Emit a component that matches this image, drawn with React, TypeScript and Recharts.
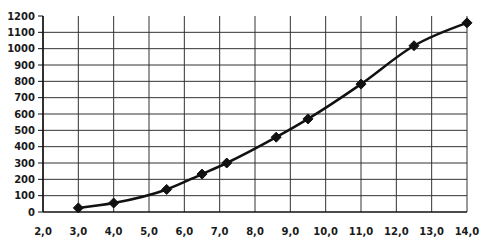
import React from 'react';
import { LineChart, Line, XAxis, YAxis, CartesianGrid, ReferenceLine } from 'recharts';

const xValues = [3.0, 4.0, 5.5, 6.5, 7.2, 8.6, 9.5, 11.0, 12.5, 14.0];
const yValues = [25, 55, 138, 232, 300, 458, 570, 783, 1018, 1158];
const xTicks = [2, 3, 4, 5, 6, 7, 8, 9, 10, 11, 12, 13, 14];
const yTicks = [0, 100, 200, 300, 400, 500, 600, 700, 800, 900, 1000, 1100, 1200];
// horizontal rules stop below the top tick
const gridRows = [100, 200, 300, 400, 500, 600, 700, 800, 900, 1000, 1100];

const data = xValues.map((x, i) => ({ x, y: yValues[i] }));

const Diamond = (props: any) => {
  const { cx, cy } = props;
  if (cx == null || cy == null) return null;
  const r = 5;
  return (
    <polygon
      points={`${cx},${cy - r} ${cx + r},${cy} ${cx},${cy + r} ${cx - r},${cy}`}
      fill="#111"
      stroke="#111"
    />
  );
};

const tickStyle = { fill: '#1a1a1a', fontSize: 10, fontFamily: 'DejaVu Sans', fontWeight: 600 };

export default function App() {
  return (
    <div style={{ position: 'absolute', left: 0, top: 0, background: '#fff' }}>
      <LineChart width={480} height={241} data={data} margin={{ top: 16, right: 13, left: 0, bottom: 0 }}>
        <CartesianGrid stroke="#333" strokeWidth={1} horizontal={false} />
        {gridRows.map((v) => (
          <ReferenceLine key={v} y={v} stroke="#333" strokeWidth={1} />
        ))}
        <XAxis
          dataKey="x"
          type="number"
          domain={[2, 14]}
          ticks={xTicks}
          tickFormatter={(v: number) => v.toFixed(1).replace('.', ',')}
          tickLine={false}
          axisLine={{ stroke: '#111', strokeWidth: 1.5 }}
          tickMargin={10}
          height={29}
          tick={tickStyle}
          interval={0}
        />
        <YAxis
          type="number"
          domain={[0, 1200]}
          ticks={yTicks}
          width={43}
          tickSize={5}
          tickMargin={3}
          tickLine={{ stroke: '#111' }}
          axisLine={{ stroke: '#111', strokeWidth: 1.5 }}
          tick={tickStyle}
          interval={0}
        />
        <Line
          type="monotone"
          dataKey="y"
          stroke="#111"
          strokeWidth={2.5}
          dot={<Diamond />}
          activeDot={false}
          isAnimationActive={false}
        />
      </LineChart>
    </div>
  );
}
